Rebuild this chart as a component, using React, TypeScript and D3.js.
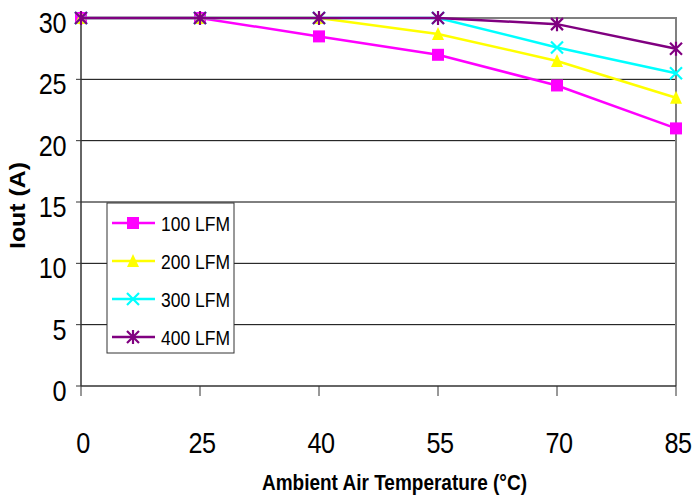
import React from "react";
import * as d3 from "d3";

const temperatures = ["0", "25", "40", "55", "70", "85"];
const yTicks = [0, 5, 10, 15, 20, 25, 30];
const lfm100 = [30, 30, 28.5, 27, 24.5, 21];
const lfm200 = [30, 30, 30, 28.7, 26.5, 23.5];
const lfm300 = [30, 30, 30, 30, 27.6, 25.5];
const lfm400 = [30, 30, 30, 30, 29.5, 27.5];
const seriesNames = ["100 LFM", "200 LFM", "300 LFM", "400 LFM"];

const W = 694;
const H = 495;
const plot = { left: 81, right: 676, top: 18, bottom: 386 };
const sans = "'Liberation Sans', Arial, sans-serif";
const squeeze = 0.87;

type Shape = "square" | "triangle" | "cross" | "star";

const series = [
  { name: seriesNames[0], values: lfm100, color: "#FF00FF", shape: "square" as Shape },
  { name: seriesNames[1], values: lfm200, color: "#FFFF00", shape: "triangle" as Shape },
  { name: seriesNames[2], values: lfm300, color: "#00FFFF", shape: "cross" as Shape },
  { name: seriesNames[3], values: lfm400, color: "#800080", shape: "star" as Shape },
];

function Marker({ x, y, shape, color }: { x: number; y: number; shape: Shape; color: string }) {
  const s = 6;
  if (shape === "square") {
    return <rect x={x - s} y={y - s} width={2 * s} height={2 * s} fill={color} />;
  }
  if (shape === "triangle") {
    return <path d={`M${x},${y - s - 1}L${x + s},${y + s}L${x - s},${y + s}Z`} fill={color} />;
  }
  if (shape === "cross") {
    return (
      <path
        d={`M${x - s},${y - s}L${x + s},${y + s}M${x - s},${y + s}L${x + s},${y - s}`}
        stroke={color}
        strokeWidth={2.2}
        fill="none"
      />
    );
  }
  return (
    <path
      d={`M${x - s},${y - s}L${x + s},${y + s}M${x - s},${y + s}L${x + s},${y - s}M${x},${y - s - 1}L${x},${y + s + 1}`}
      stroke={color}
      strokeWidth={2.2}
      fill="none"
    />
  );
}

export default function App() {
  const x = d3.scalePoint<string>().domain(temperatures).range([plot.left, plot.right]).padding(0);
  const y = d3.scaleLinear().domain([0, 30]).range([plot.bottom, plot.top]);
  const line = d3
    .line<number>()
    .x((_, i) => x(temperatures[i]) as number)
    .y((d) => y(d));

  const legend = { x: 107, y: 203, w: 127, h: 150 };

  return (
    <svg width={W} height={H} style={{ position: "absolute", left: 0, top: 0, background: "#fff" }}>
      {/* horizontal gridlines */}
      {yTicks.slice(1, -1).map((t) => (
        <line key={t} x1={plot.left} x2={plot.right} y1={y(t)} y2={y(t)} stroke="#000" strokeWidth={1} />
      ))}
      {/* plot border (top, right) */}
      <path
        d={`M${plot.left},${plot.top}L${plot.right},${plot.top}L${plot.right},${plot.bottom}`}
        stroke="#808080"
        strokeWidth={2}
        fill="none"
      />
      {/* axes */}
      <line x1={plot.left} x2={plot.left} y1={plot.top} y2={plot.bottom} stroke="#333" strokeWidth={1.5} />
      <line x1={plot.left} x2={plot.right} y1={plot.bottom} y2={plot.bottom} stroke="#333" strokeWidth={1.5} />
      {yTicks.map((t) => (
        <g key={t}>
          <line x1={plot.left - 5} x2={plot.left} y1={y(t)} y2={y(t)} stroke="#333" />
          <text
            transform={`translate(66, ${y(t) + 15}) scale(${squeeze}, 1)`}
            textAnchor="end"
            fontFamily={sans}
            fontSize={29}
            letterSpacing={-0.5}
            fill="#000"
          >
            {t}
          </text>
        </g>
      ))}
      {temperatures.map((c) => (
        <g key={c}>
          <line x1={x(c)} x2={x(c)} y1={plot.bottom} y2={plot.bottom + 10} stroke="#333" />
          <text
            transform={`translate(${(x(c) as number) + 2}, 453) scale(${squeeze}, 1)`}
            textAnchor="middle"
            fontFamily={sans}
            fontSize={29}
            letterSpacing={-0.5}
            fill="#000"
          >
            {c}
          </text>
        </g>
      ))}
      <text
        x={262}
        y={490}
        textLength={265}
        lengthAdjust="spacingAndGlyphs"
        fontFamily={sans}
        fontWeight="bold"
        fontSize={22}
        fill="#000"
      >
        Ambient Air Temperature (°C)
      </text>
      <text
        transform={`translate(25, 206) rotate(-90)`}
        x={-43}
        textLength={87}
        lengthAdjust="spacingAndGlyphs"
        fontFamily={sans}
        fontWeight="bold"
        fontSize={22}
        fill="#000"
      >
        Iout (A)
      </text>

      {/* series */}
      {series.map((s) => (
        <g key={s.name}>
          <path d={line(s.values) || ""} stroke={s.color} strokeWidth={2.5} fill="none" />
          {s.values.map((v, i) => (
            <Marker key={i} x={x(temperatures[i]) as number} y={y(v)} shape={s.shape} color={s.color} />
          ))}
        </g>
      ))}

      {/* legend */}
      <rect x={legend.x} y={legend.y} width={legend.w} height={legend.h} fill="#fff" stroke="#333" strokeWidth={1} />
      {series.map((s, i) => {
        const ly = 223 + i * 38;
        return (
          <g key={s.name}>
            <line x1={112} x2={155} y1={ly} y2={ly} stroke={s.color} strokeWidth={2.5} />
            <Marker x={133} y={ly} shape={s.shape} color={s.color} />
            <text
              x={161}
              y={ly + 8}
              textLength={69}
              lengthAdjust="spacingAndGlyphs"
              fontFamily={sans}
              fontSize={21}
              fill="#000"
            >
              {s.name}
            </text>
          </g>
        );
      })}
    </svg>
  );
}
